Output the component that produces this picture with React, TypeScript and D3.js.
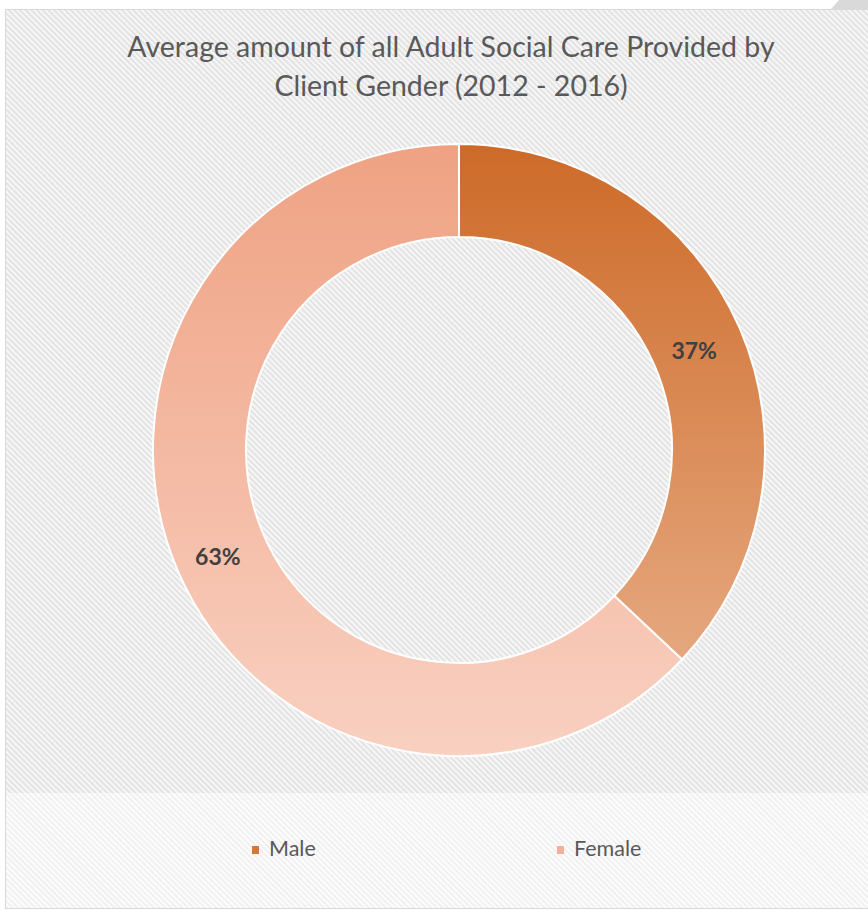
import React from "react";
import * as d3 from "d3";

const categories = ["Male", "Female"];
const values = [37, 63];
const labels = ["37%", "63%"];
const titleLines = ["Average amount of all Adult Social Care Provided by", "Client Gender (2012 - 2016)"];

const W = 868;
const H = 911;
const cx = 459;
const cy = 450;
const outerR = 306;
const innerR = 213;

const gradStops = [
  [
    { off: 0, c: "#CD6A28" },
    { off: 1, c: "#EAB38F" },
  ],
  [
    { off: 0, c: "#EFA283" },
    { off: 1, c: "#F9D0C1" },
  ],
];
const legendSwatch = ["#D2773D", "#F2B09A"];

export default function App() {
  const pie = d3.pie<number>().sort(null).value((d) => d);
  const arcs = pie(values);
  const arc = d3.arc<d3.PieArcDatum<number>>().innerRadius(innerR).outerRadius(outerR);
  const font = "Lato, 'Open Sans', sans-serif";
  const legendX = [252, 557];
  return (
    <svg
      width={W}
      height={H}
      style={{ position: "absolute", left: 0, top: 0, display: "block" }}
      xmlns="http://www.w3.org/2000/svg"
    >
      <defs>
        <pattern id="hatch1" width="4" height="4" patternUnits="userSpaceOnUse" patternTransform="rotate(-45)">
          <rect width="4" height="4" fill="#E3E3E3" />
          <rect width="2" height="4" fill="#F6F6F6" />
        </pattern>
        <pattern id="hatch2" width="4" height="4" patternUnits="userSpaceOnUse" patternTransform="rotate(-45)">
          <rect width="4" height="4" fill="#F0F0F0" />
          <rect width="2" height="4" fill="#FDFDFD" />
        </pattern>
        {gradStops.map((stops, i) => (
          <linearGradient
            key={i}
            id={`grad${i}`}
            gradientUnits="userSpaceOnUse"
            x1={0}
            y1={-outerR}
            x2={0}
            y2={outerR}
          >
            {stops.map((s, j) => (
              <stop key={j} offset={s.off} stopColor={s.c} />
            ))}
          </linearGradient>
        ))}
      </defs>
      <rect x={0} y={0} width={W} height={H} fill="#FFFFFF" />
      <rect x={5} y={9} width={W} height={899} fill="url(#hatch1)" />
      <rect x={5} y={793} width={W} height={115} fill="url(#hatch2)" />
      <line x1={5.5} y1={9} x2={5.5} y2={908} stroke="#D9D9D9" strokeWidth={1} />
      <line x1={5} y1={9.5} x2={W} y2={9.5} stroke="#D9D9D9" strokeWidth={1} />
      <line x1={5} y1={908.5} x2={W} y2={908.5} stroke="#D9D9D9" strokeWidth={1} />
      <polygon points="831,9 839,0 868,0 868,9" fill="#D9D9D9" />
      {titleLines.map((t, i) => (
        <text
          key={i}
          x={451}
          y={57 + i * 39}
          textAnchor="middle"
          fontFamily={font}
          fontSize={28.5}
          fill="#595959"
        >
          {t}
        </text>
      ))}
      <g transform={`translate(${cx},${cy})`}>
        {arcs.map((a, i) => (
          <path key={i} d={arc(a) || ""} fill={`url(#grad${i})`} stroke="#FFFFFF" strokeWidth={2} />
        ))}
        {arcs.map((a, i) => {
          const [lx, ly] = arc.centroid(a);
          return (
            <text
              key={i}
              x={lx - 3}
              y={ly + 6}
              textAnchor="middle"
              dominantBaseline="middle"
              fontFamily={font}
              fontWeight="bold"
              fontSize={23}
              fill="#404040"
            >
              {labels[i]}
            </text>
          );
        })}
      </g>
      {categories.map((c, i) => (
        <g key={c}>
          <rect x={legendX[i]} y={846} width={7} height={8} fill={legendSwatch[i]} />
          <text
            x={legendX[i] + 17}
            y={851}
            dominantBaseline="middle"
            fontFamily={font}
            fontSize={21.5}
            fill="#595959"
          >
            {c}
          </text>
        </g>
      ))}
    </svg>
  );
}
